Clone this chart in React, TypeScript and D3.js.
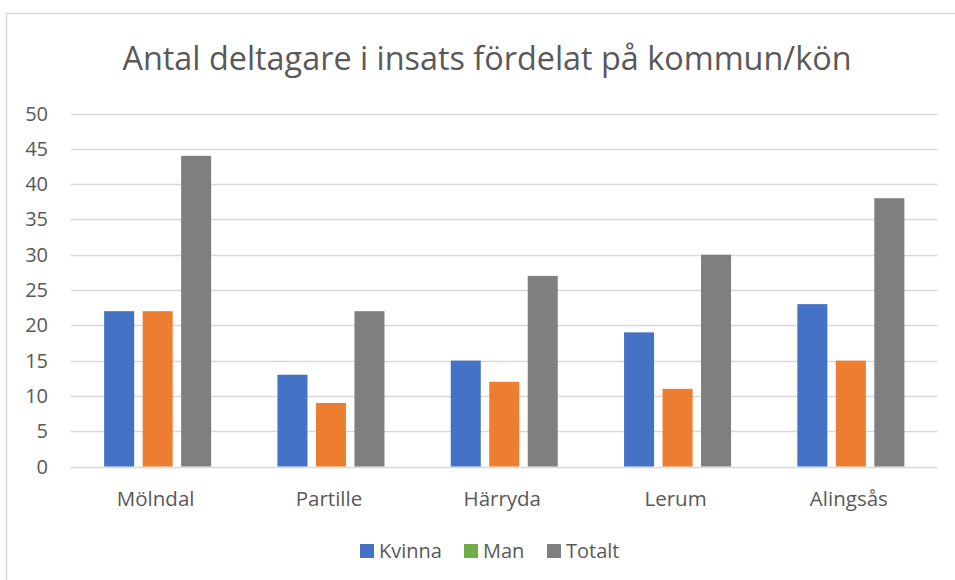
import React from "react";
import * as d3 from "d3";

const categories = ["Mölndal", "Partille", "Härryda", "Lerum", "Alingsås"];
const seriesNames = ["Kvinna", "Man", "Totalt"];
const kvinna = [22, 13, 15, 19, 23];
const man = [22, 9, 12, 11, 15];
const totalt = [44, 22, 27, 30, 38];
const yTicks = [0, 5, 10, 15, 20, 25, 30, 35, 40, 45, 50];
const barColors = ["#4472C4", "#ED7D31", "#7F7F7F"];
const legendColors = ["#4472C4", "#70AD47", "#7F7F7F"];
const title = "Antal deltagare i insats fördelat på kommun/kön";

const W = 955, H = 580;
const FONT = "'Open Sans', 'Segoe UI', sans-serif";

export default function App() {
  const values = [kvinna, man, totalt];
  const x = d3.scaleBand<string>().domain(categories).range([71, 937.5]).paddingInner(0).paddingOuter(0);
  const inner = d3.scaleBand<string>().domain(seriesNames).range([-53.5, 53.5]).paddingInner(0.22).paddingOuter(0);
  const y = d3.scaleLinear().domain([0, 50]).range([466.5, 113.5]);
  const legendX = [360, 464, 547];
  return (
    <svg width={W} height={H} style={{ position: "absolute", left: 0, top: 0 }} fontFamily={FONT}>
      <rect x={0} y={0} width={W} height={H} fill="#fff" />
      <rect x={6.5} y={13.5} width={W + 10} height={H + 10} fill="#fff" stroke="#d9d9d9" strokeWidth={1.5} />
      <text x={487} y={70} textAnchor="middle" fontSize={32} fill="#595959" textLength={729} lengthAdjust="spacingAndGlyphs">{title}</text>
      {yTicks.map((t) => (
        <g key={t}>
          <line x1={71} x2={937.5} y1={Math.round(y(t)) + 0.5} y2={Math.round(y(t)) + 0.5} stroke="#d9d9d9" strokeWidth={1.3} />
          <text x={48} y={y(t) + 7} textAnchor="end" fontSize={20} fill="#595959">{t}</text>
        </g>
      ))}
      {categories.map((c, i) => {
        const cx = (x(c) as number) + x.bandwidth() / 2;
        return (
          <g key={c}>
            {seriesNames.map((s, j) => (
              <rect key={s} x={cx + (inner(s) as number)} width={inner.bandwidth()} y={y(values[j][i])}
                height={y(0) - y(values[j][i])} fill={barColors[j]} />
            ))}
            <text x={cx - 2} y={506} textAnchor="middle" fontSize={20.5} fill="#595959">{c}</text>
          </g>
        );
      })}
      {seriesNames.map((s, j) => (
        <g key={s}>
          <rect x={legendX[j]} y={544} width={14} height={14} fill={legendColors[j]} />
          <text x={legendX[j] + 19} y={558} fontSize={20} fill="#595959">{s}</text>
        </g>
      ))}
    </svg>
  );
}
